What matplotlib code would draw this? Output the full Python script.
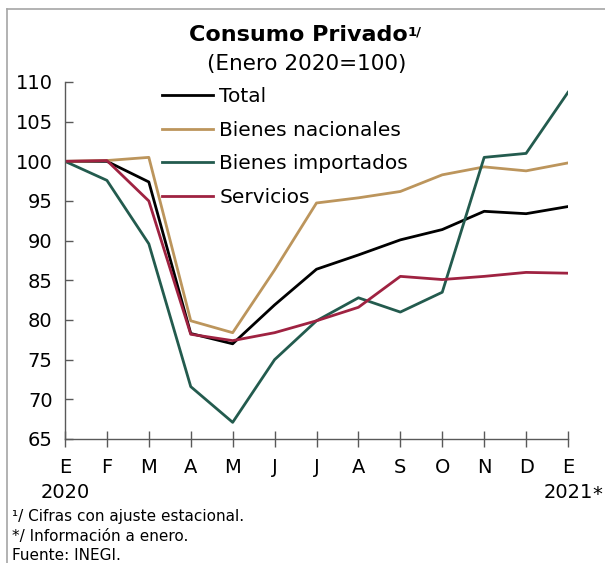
import matplotlib

matplotlib.use("Agg")
import matplotlib.pyplot as plt
import matplotlib.transforms as mtransforms

plt.rcParams["font.family"] = ["DejaVu Sans"]

# Data (Enero 2020 = 100)
months = ["E", "F", "M", "A", "M", "J", "J", "A", "S", "O", "N", "D", "E"]
total = [100.0, 100.0, 97.4, 78.3, 77.0, 81.9, 86.4, 88.2, 90.1, 91.4, 93.7, 93.4, 94.3]
nacionales = [100.0, 100.1, 100.5, 79.9, 78.4, 86.3, 94.75, 95.4, 96.2, 98.3, 99.3, 98.8, 99.8]
importados = [100.0, 97.6, 89.6, 71.6, 67.1, 75.0, 79.9, 82.8, 81.0, 83.5, 100.5, 101.0, 108.7]
servicios = [100.0, 100.1, 95.0, 78.2, 77.4, 78.4, 79.9, 81.6, 85.5, 85.1, 85.5, 86.0, 85.9]
yticks = [65, 70, 75, 80, 85, 90, 95, 100, 105, 110]

series = [
    ("Total", total, "black"),
    ("Bienes nacionales", nacionales, "#BC955C"),
    ("Bienes importados", importados, "#235B4E"),
    ("Servicios", servicios, "#9F2241"),
]

W, H = 605, 563
fig = plt.figure(figsize=(W / 100, H / 100), dpi=100)
fig.patch.set_facecolor("white")

# thin outer frame (only top/left visible in the source)
fig.add_artist(plt.Line2D([7 / W, 7 / W], [0, 1 - 9 / H], color="#A6A6A6", lw=1.2))
fig.add_artist(plt.Line2D([7 / W, 1], [1 - 9 / H, 1 - 9 / H], color="#A6A6A6", lw=1.2))

ax = fig.add_axes([65 / W, 1 - 439 / H, (568 - 65) / W, (439 - 82) / H])
x = list(range(len(months)))
for name, vals, col in series:
    ax.plot(x, vals, color=col, lw=2.0, label=name)

ax.set_xlim(0, len(months) - 1)
ax.set_ylim(65, 110)
ax.set_yticks(yticks)
ax.set_xticks(x)
ax.set_xticklabels(months)
ax.tick_params(axis="y", direction="in", length=6, width=1, color="#595959",
               labelsize=14, pad=9)
ax.tick_params(axis="x", direction="inout", length=12, width=1, color="#595959",
               labelsize=14, pad=8)
for s in ("top", "right"):
    ax.spines[s].set_visible(False)
for s in ("left", "bottom"):
    ax.spines[s].set_color("#595959")
    ax.spines[s].set_linewidth(1)

leg = ax.legend(loc="upper left", bbox_to_anchor=(0.177, 1.008), frameon=False,
                fontsize=14.5, handlelength=2.55, handletextpad=0.3,
                labelspacing=0.72, borderaxespad=0.0)

# year labels under the month letters
tr = mtransforms.blended_transform_factory(ax.transData, fig.transFigure)
ax.text(0, 1 - 493 / H, "2020", transform=tr, ha="center", va="center", fontsize=14)
yr = ax.text(12, 1 - 493 / H, "2021", transform=tr, ha="center", va="center", fontsize=14)
ax.annotate("*", xy=(1, 0.9), xycoords=yr, ha="left", va="top", fontsize=14)

# title with superscript
t = fig.text(298 / W, 1 - 35 / H, "Consumo Privado", ha="center", va="center",
             fontsize=16, fontweight="bold")
fig.text(307 / W, 1 - 64 / H, "(Enero 2020=100)", ha="center", va="center", fontsize=15.5)
ax.annotate("1/", xy=(1, 0.98), xycoords=t, ha="left", va="top", fontsize=9.5,
            fontweight="bold")

# footnotes
notes = ["¹/ Cifras con ajuste estacional.", "*/ Información a enero.", "Fuente: INEGI."]
for i, note in enumerate(notes):
    fig.text(12 / W, 1 - (517 + i * 19.5) / H, note, ha="left", va="center", fontsize=11)

fig.savefig("out.png", dpi=100, facecolor="white")
